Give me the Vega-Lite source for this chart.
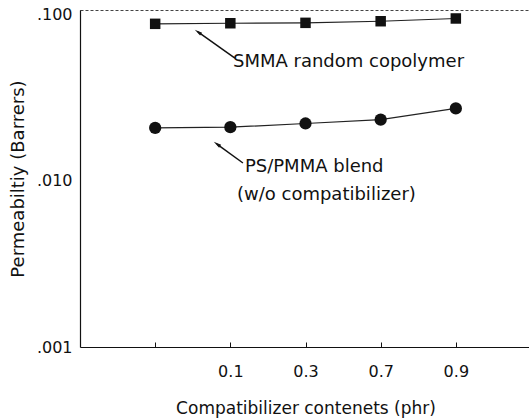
{
  "$schema": "https://vega.github.io/schema/vega-lite/v6.json",
  "autosize": {"type": "none"},
  "padding": {"left": 80, "top": 10, "right": 0, "bottom": 73},
  "width": 451,
  "height": 337,
  "background": "white",
  "config": {
    "font": "DejaVu Sans",
    "view": {"stroke": "#444", "strokeDash": [3, 2], "strokeWidth": 1},
    "axis": {"domainColor": "#111", "labelColor": "#111", "titleColor": "#111", "grid": false}
  },
  "datasets": {
    "points": [
      {"phr": 0, "series": "SMMA random copolymer", "permeability": 0.0873},
      {"phr": 0.1, "series": "SMMA random copolymer", "permeability": 0.0880},
      {"phr": 0.3, "series": "SMMA random copolymer", "permeability": 0.0885},
      {"phr": 0.7, "series": "SMMA random copolymer", "permeability": 0.0905},
      {"phr": 0.9, "series": "SMMA random copolymer", "permeability": 0.0940},
      {"phr": 0, "series": "PS/PMMA blend", "permeability": 0.0207},
      {"phr": 0.1, "series": "PS/PMMA blend", "permeability": 0.0209},
      {"phr": 0.3, "series": "PS/PMMA blend", "permeability": 0.0220},
      {"phr": 0.7, "series": "PS/PMMA blend", "permeability": 0.0232},
      {"phr": 0.9, "series": "PS/PMMA blend", "permeability": 0.0271}
    ],
    "arrows": [
      {"x": 1.061, "y": 0.0544, "x2": 0.569, "y2": 0.0780},
      {"x": 1.168, "y": 0.01274, "x2": 0.822, "y2": 0.01656}
    ],
    "notes": [
      {"x": 1.035, "y": 0.0515, "text": "SMMA random copolymer"},
      {"x": 1.194, "y": 0.01205, "text": "PS/PMMA blend"},
      {"x": 1.088, "y": 0.00818, "text": "(w/o compatibilizer)"}
    ]
  },
  "resolve": {"scale": {"x": "independent"}, "axis": {"x": "independent"}},
  "encoding": {
    "y": {
      "type": "quantitative",
      "scale": {"type": "log", "domain": [0.001, 0.1057], "nice": false},
      "axis": {
        "title": "Permeabiltiy (Barrers)",
        "values": [0.001, 0.01, 0.1],
        "labelExpr": "slice(format(datum.value, '.3f'), 1)",
        "ticks": false,
        "tickSize": 0,
        "labelPadding": 8,
        "labelFontSize": 16,
        "titleFontSize": 18,
        "titleFontWeight": "normal",
        "titlePadding": 9,
        "domainWidth": 1.2
      }
    }
  },
  "layer": [
    {
      "data": {"name": "points"},
      "layer": [
        {
          "mark": {"type": "line", "color": "#222", "strokeWidth": 1.2},
          "encoding": {
            "x": {
              "field": "phr",
              "type": "ordinal",
              "scale": {"type": "point", "padding": 1},
              "axis": {
                "title": "Compatibilizer contenets (phr)",
                "labelExpr": "datum.value == 0 ? '' : datum.label",
                "labelAngle": 0,
                "tickSize": -5,
                "tickColor": "#111",
                "labelPadding": 21,
                "labelFontSize": 16,
                "titleFontSize": 17,
                "titleFontWeight": "normal",
                "titlePadding": 21,
                "domainWidth": 1.2
              }
            },
            "y": {"field": "permeability"},
            "detail": {"field": "series"}
          }
        },
        {
          "mark": {"type": "point", "filled": true, "color": "#111", "opacity": 1},
          "encoding": {
            "x": {"field": "phr", "type": "ordinal"},
            "y": {"field": "permeability"},
            "shape": {
              "field": "series",
              "scale": {"domain": ["SMMA random copolymer", "PS/PMMA blend"], "range": ["square", "circle"]},
              "legend": null
            },
            "size": {
              "field": "series",
              "type": "nominal",
              "scale": {"domain": ["SMMA random copolymer", "PS/PMMA blend"], "range": [110, 150]},
              "legend": null
            }
          }
        }
      ]
    },
    {
      "layer": [
        {
          "data": {"name": "arrows"},
          "mark": {"type": "rule", "color": "#111", "strokeWidth": 1.5},
          "encoding": {
            "x": {"field": "x", "type": "quantitative", "scale": {"domain": [-1, 5], "nice": false, "zero": false}, "axis": null},
            "y": {"field": "y"},
            "x2": {"field": "x2"},
            "y2": {"field": "y2"}
          }
        },
        {
          "data": {"name": "arrows"},
          "mark": {"type": "point", "shape": "M0,-1L0.45,1L-0.45,1Z", "filled": true, "color": "#111", "opacity": 1, "size": 60, "angle": 305},
          "encoding": {
            "x": {"field": "x2", "type": "quantitative"},
            "y": {"field": "y2"}
          }
        },
        {
          "data": {"name": "notes"},
          "mark": {"type": "text", "align": "left", "baseline": "middle", "fontSize": 18, "color": "#111"},
          "encoding": {
            "x": {"field": "x", "type": "quantitative"},
            "y": {"field": "y"},
            "text": {"field": "text"}
          }
        }
      ]
    }
  ]
}
